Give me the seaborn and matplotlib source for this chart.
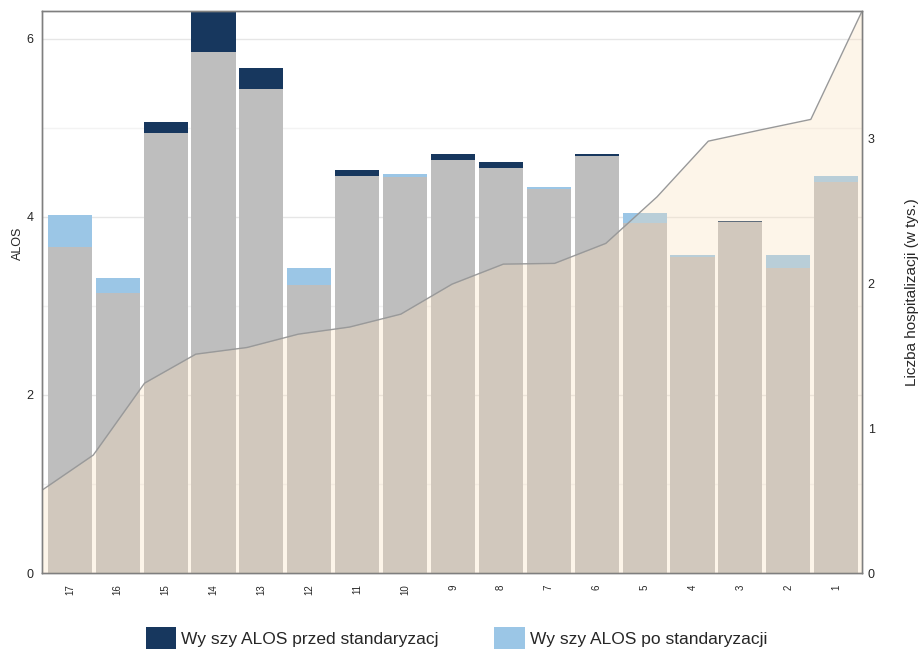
import numpy as np
import pandas as pd
import matplotlib.pyplot as plt
import seaborn as sns
from matplotlib.patches import Patch
from matplotlib.ticker import MultipleLocator

# Data
categories = ['17', '16', '15', '14', '13', '12', '11', '10', '9',
              '8', '7', '6', '5', '4', '3', '2', '1']
alos_before = [3.66, 3.14, 5.07, 6.31, 5.67, 3.24, 4.53, 4.45, 4.70,
               4.62, 4.31, 4.70, 3.93, 3.55, 3.955, 3.43, 4.39]
alos_after = [4.02, 3.315, 4.94, 5.85, 5.43, 3.43, 4.46, 4.48, 4.64,
              4.55, 4.34, 4.685, 4.045, 3.573, 3.944, 3.573, 4.46]
hosp = [0.572, 0.814, 1.31, 1.51, 1.556, 1.648, 1.697, 1.786, 1.993,
        2.131, 2.136, 2.274, 2.595, 2.979, 3.055, 3.129, 3.876]

legend_labels = ['Wy szy ALOS przed standaryzacj', 'Wy szy ALOS po standaryzacji']

dark = '#17375e'
light = '#9bc6e6'
grey = '#bebebe'

df = pd.DataFrame({'cat': categories, 'before': alos_before, 'after': alos_after})
df['top'] = df[['before', 'after']].max(axis=1)
df['low'] = df[['before', 'after']].min(axis=1)
df['color'] = np.where(df['before'] > df['after'], dark, light)

sns.set_style('white')
plt.rcParams['font.family'] = ['Liberation Sans', 'DejaVu Sans']

fig, ax = plt.subplots(figsize=(9.22, 6.52), dpi=100)
fig.subplots_adjust(left=0.0456, right=0.935, top=0.983, bottom=0.121)

# top segments (whichever ALOS is higher)
sns.barplot(data=df, x='cat', y='top', hue='cat', order=categories,
            palette=dict(zip(df['cat'], df['color'])), legend=False,
            width=0.92, saturation=1, linewidth=0, ax=ax)
# grey part up to the lower value
sns.barplot(data=df, x='cat', y='low', order=categories, color=grey,
            width=0.92, saturation=1, linewidth=0, ax=ax)

xlim = (-0.58, len(categories) - 0.46)
ax.set_xlim(*xlim)
ax.set_ylim(0, max(df['top']))
ax.yaxis.set_major_locator(MultipleLocator(2))
ax.yaxis.set_minor_locator(MultipleLocator(1))
ax.set_axisbelow(True)
ax.grid(axis='y', which='major', color='#e6e6e6', linewidth=1)
ax.grid(axis='y', which='minor', color='#f3f3f3', linewidth=1)
ax.set_xlabel('')
ax.set_ylabel('ALOS', fontsize=9)
ax.yaxis.set_label_coords(-0.022, 0.587)
ax.tick_params(axis='y', which='both', length=0, labelsize=9, pad=6)
ax.tick_params(axis='x', length=0, labelsize=7, pad=8)
plt.setp(ax.get_xticklabels(), rotation=90)

# hospitalisations on the secondary axis
ax2 = ax.twinx()
xs = np.linspace(xlim[0], xlim[1], len(hosp))
ax2.fill_between(xs, hosp, color='#fae0bc', alpha=0.32, linewidth=0)
sns.lineplot(x=xs, y=hosp, color='#999999', linewidth=1, ax=ax2)
ax2.set_ylim(0, max(hosp))
ax2.yaxis.set_major_locator(MultipleLocator(1))
ax2.set_ylabel('Liczba hospitalizacji (w tys.)', fontsize=11, labelpad=22)
ax2.tick_params(axis='y', length=0, labelsize=9, pad=4)

for a in (ax, ax2):
    for s in a.spines.values():
        s.set_visible(True)
        s.set_color('#7f7f7f')
        s.set_linewidth(1)

handles = [Patch(facecolor=dark, linewidth=0), Patch(facecolor=light, linewidth=0)]
fig.legend(handles, legend_labels, loc='lower center', ncol=2, frameon=False,
           bbox_to_anchor=(0.495, -0.02), fontsize=12.5, handlelength=1.75,
           handleheight=1.6, handletextpad=0.3, columnspacing=3.2)

plt.savefig('out.png', dpi=100)
